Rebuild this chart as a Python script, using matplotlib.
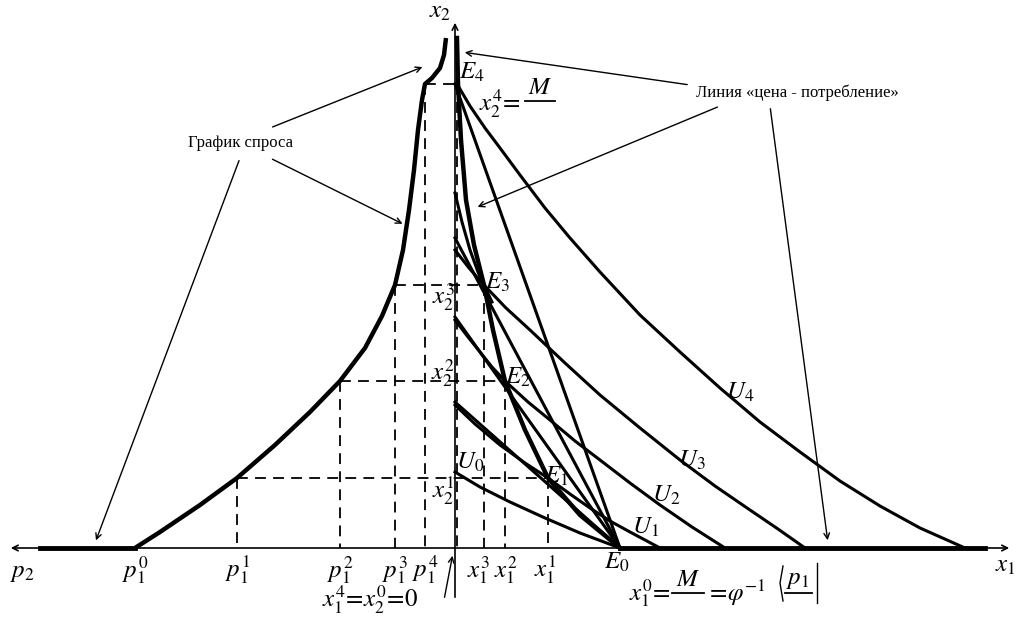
import matplotlib
matplotlib.use("Agg")
import matplotlib.pyplot as plt

plt.rcParams['mathtext.fontset'] = 'stix'
plt.rcParams['font.family'] = ['Liberation Serif', 'DejaVu Serif']

# Screen-space geometry (pixels, origin at top-left)
E = {0: (620, 548), 1: (548, 478), 2: (505, 381), 3: (484, 285), 4: (457, 84)}
budget_intercepts = [402, 317, 238, 84]
demand_x = [135, 160, 200, 237, 275, 310, 340, 365, 382, 395, 403, 409, 414, 418, 422, 425, 432, 440, 444, 446]
demand_y = [548, 532, 505, 478, 445, 412, 381, 348, 316, 285, 250, 210, 170, 130, 100, 84, 78, 68, 55, 38]
pcc_x = [457, 458, 461, 466, 474, 484, 493, 505, 525, 548, 580, 620]
pcc_y = [38, 84, 140, 200, 245, 285, 330, 381, 430, 478, 515, 548]
U_curves = {
    'U0': ([455, 480, 510, 545, 580, 620], [472, 487, 502, 518, 533, 548]),
    'U1': ([455, 475, 500, 525, 548, 570, 590, 610, 630, 645, 660], [405, 424, 445, 463, 478, 494, 508, 521, 532, 540, 548]),
    'U2': ([455, 468, 480, 492, 505, 528, 550, 575, 600, 630, 660, 692, 725], [320, 337, 352, 367, 381, 402, 420, 441, 460, 483, 505, 527, 548]),
    'U3': ([455, 469, 484, 506, 530, 565, 600, 640, 680, 715, 750, 778, 805], [250, 268, 285, 308, 330, 363, 395, 428, 460, 486, 510, 529, 548]),
    'U4': ([457, 470, 485, 500, 520, 545, 570, 600, 640, 680, 720, 760, 800, 840, 880, 920, 965],
           [84, 106, 128, 148, 175, 208, 238, 272, 315, 352, 388, 422, 452, 481, 506, 528, 548]),
}
extra_x = [455, 462, 470, 478, 484, 492]
extra_y = [193, 222, 250, 272, 285, 302]

fig = plt.figure(figsize=(10.24, 6.19), dpi=100)
ax = fig.add_axes([0, 0, 1, 1])
ax.set_xlim(0, 1024); ax.set_ylim(619, 0); ax.axis('off')

ax.annotate('', xy=(8, 548), xytext=(1012, 548), arrowprops=dict(arrowstyle='<->', lw=1.2))
ax.annotate('', xy=(455, 20), xytext=(455, 600), arrowprops=dict(arrowstyle='->', lw=1.2))
ax.plot([40, 135], [548, 548], 'k', lw=3.5)
ax.plot([620, 985], [548, 548], 'k', lw=3.5)

ax.plot(demand_x, demand_y, 'k', lw=3.2, solid_capstyle='butt')
ax.plot(pcc_x, pcc_y, 'k', lw=3.2)
for b in budget_intercepts:
    ax.plot([455, 620], [b, 548], 'k', lw=2.2)
for k, (xs, ys) in U_curves.items():
    ax.plot(xs, ys, 'k', lw=2.2)
ax.plot(extra_x, extra_y, 'k', lw=2.2)

dash = dict(color='k', lw=1.3, ls=(0, (6, 4)))
for (px, i) in [(237, 1), (340, 2), (395, 3), (425, 4)]:
    ex, ey = E[i]
    ax.plot([px, ex], [ey, ey], **dash)
    ax.plot([px, px], [ey, 548], **dash)
    ax.plot([ex, ex], [ey, 548], **dash)

fs = 18
ax.text(22, 573, r'$p_2$', fontsize=fs, ha='center', va='center')
ax.text(1005, 566, r'$x_1$', fontsize=fs, ha='center', va='center')
ax.text(440, 12, r'$x_2$', fontsize=fs, ha='center', va='center')
for px, s in [(135, '0'), (237, '1'), (340, '2'), (395, '3'), (425, '4')]:
    ax.text(px, 570, r'$p_1^{%s}$' % s, fontsize=fs, ha='center', va='center')
for px, s in [(478, '3'), (506, '2'), (545, '1')]:
    ax.text(px, 570, r'$x_1^{%s}$' % s, fontsize=fs, ha='center', va='center')
ax.text(370, 600, r'$x_1^4\!=\!x_2^0\!=\!0$', fontsize=fs, ha='center', va='center')
ax.annotate('', xy=(453, 553), xytext=(444, 600), arrowprops=dict(arrowstyle='->', lw=1))
ax.text(650, 593, r'$x_1^0\!=$', fontsize=fs, ha='center', va='center')
ax.text(688, 580, r'$M$', fontsize=fs, ha='center', va='center')
ax.plot([672, 704], [593, 593], 'k', lw=1.3)
ax.text(736, 593, r'$=\!\varphi^{-1}$', fontsize=fs, ha='center', va='center')
ax.plot([783, 780, 783], [566, 583, 601], 'k', lw=1)
ax.text(798, 580, r'$p_1$', fontsize=fs, ha='center', va='center')
ax.plot([785, 812], [593, 593], 'k', lw=1.3)
ax.plot([817, 817], [563, 603], 'k', lw=1)
ax.text(617, 562, r'$E_0$', fontsize=fs, ha='center', va='center')
ax.text(556, 476, r'$E_1$', fontsize=fs, ha='center', va='center')
ax.text(518, 377, r'$E_2$', fontsize=fs, ha='center', va='center')
ax.text(497, 282, r'$E_3$', fontsize=fs, ha='center', va='center')
ax.text(472, 72, r'$E_4$', fontsize=fs, ha='center', va='center')
ax.text(500, 103, r'$x_2^4\!=$', fontsize=fs, ha='center', va='center')
ax.text(540, 88, r'$M$', fontsize=fs, ha='center', va='center')
ax.plot([525, 555], [101, 101], 'k', lw=1.3)
for py, s in [(490, '1'), (373, '2'), (297, '3')]:
    ax.text(443, py, r'$x_2^{%s}$' % s, fontsize=fs, ha='center', va='center')
ax.text(470, 462, r'$U_0$', fontsize=fs, ha='center', va='center')
ax.text(646, 527, r'$U_1$', fontsize=fs, ha='center', va='center')
ax.text(666, 495, r'$U_2$', fontsize=fs, ha='center', va='center')
ax.text(692, 460, r'$U_3$', fontsize=fs, ha='center', va='center')
ax.text(740, 392, r'$U_4$', fontsize=fs, ha='center', va='center')

arr = dict(arrowstyle='->', lw=1)
ax.text(240, 143, 'График спроса', fontsize=12, ha='center', va='center')
for tgt, src in [((95, 543), (240, 158)), ((405, 225), (270, 158)), ((425, 66), (270, 128))]:
    ax.annotate('', xy=tgt, xytext=src, arrowprops=arr)
ax.text(797, 93, 'Линия «цена - потребление»', fontsize=12, ha='center', va='center')
for tgt, src in [((462, 52), (690, 85)), ((475, 208), (720, 106)), ((828, 543), (770, 106))]:
    ax.annotate('', xy=tgt, xytext=src, arrowprops=arr)

fig.savefig('out.png', dpi=100)
